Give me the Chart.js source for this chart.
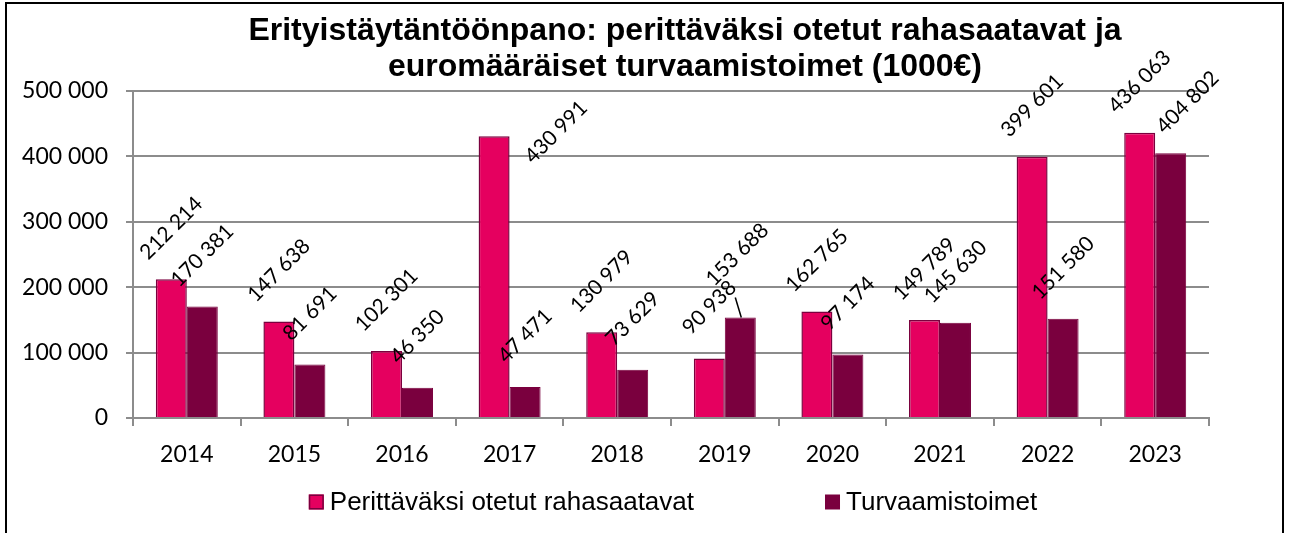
<!DOCTYPE html>
<html>
<head>
<meta charset="utf-8">
<script src="https://cdn.jsdelivr.net/npm/chart.js@4"></script>
<style>
  html, body { margin: 0; padding: 0; background: #fff; }
  canvas { display: block; }
</style>
</head>
<body>
<canvas id="chart" width="1290" height="533"></canvas>
<script>
// data
const years = ['2014', '2015', '2016', '2017', '2018', '2019', '2020', '2021', '2022', '2023'];
const perittavaksi = [212214, 147638, 102301, 430991, 130979, 90938, 162765, 149789, 399601, 436063];
const turvaamistoimet = [170381, 81691, 46350, 47471, 73629, 153688, 97174, 145630, 151580, 404802];
const seriesNames = ['Perittäväksi otetut rahasaatavat', 'Turvaamistoimet'];
const titleLines = ['Erityistäytäntöönpano: perittäväksi otetut rahasaatavat ja', 'euromääräiset turvaamistoimet (1000€)'];

const PINK = '#E5005F';
const WINE = '#7A003E';
const GRID = '#8c8c8c';

// labels that were moved by hand in the original
const labelNudge = {
  '0-3': { dx: 62, dy: 47 },
  '1-5': { dx: -3, dy: -12, leader: true },
  '1-9': { dx: 17, dy: 0 }
};

function fmt(v) {
  return String(v).replace(/\B(?=(\d{3})+(?!\d))/g, ' ');
}

Chart.defaults.font.family = 'Lato';
Chart.defaults.font.size = 23;
Chart.defaults.color = '#000';

// rotated value labels above the bars
const barLabels = {
  id: 'barLabels',
  afterDatasetsDraw(chart) {
    const ctx = chart.ctx;
    chart.data.datasets.forEach((ds, i) => {
      chart.getDatasetMeta(i).data.forEach((bar, j) => {
        const n = labelNudge[i + '-' + j] || { dx: 0, dy: 0 };
        const cx = bar.x + n.dx;
        const cy = bar.y - 51 + n.dy;
        ctx.save();
        if (n.leader) {
          ctx.strokeStyle = '#000';
          ctx.lineWidth = 1.5;
          ctx.beginPath();
          ctx.moveTo(bar.x - 5, bar.y - 20);
          ctx.lineTo(bar.x + 1, bar.y);
          ctx.stroke();
        }
        ctx.translate(cx, cy);
        ctx.rotate(-Math.PI / 4);
        ctx.font = '21px Lato';
        ctx.fillStyle = '#000';
        ctx.textAlign = 'center';
        ctx.textBaseline = 'middle';
        ctx.fillText(fmt(ds.data[j]), 0, 0);
        ctx.restore();
      });
    });
  }
};

// title, legend row and outer frame
const frameAndText = {
  id: 'frameAndText',
  afterDraw(chart) {
    const ctx = chart.ctx;
    const area = chart.chartArea;
    ctx.save();

    ctx.fillStyle = '#000';
    ctx.textAlign = 'center';
    ctx.textBaseline = 'middle';
    ctx.font = 'bold 32px "Liberation Sans", Arial, sans-serif';
    const tx = (area.left + area.right) / 2 + 14;
    titleLines.forEach((line, k) => ctx.fillText(line, tx, 31 + k * 36));

    ctx.textAlign = 'left';
    ctx.font = '26px "Liberation Sans", Arial, sans-serif';
    const box = 15, gapText = 6, gapItem = 131;
    const widths = chart.data.datasets.map(d => ctx.measureText(d.label).width);
    const total = widths.reduce((a, w) => a + box + gapText + w, 0) + gapItem * (widths.length - 1);
    let x = (area.left + area.right) / 2 + 2 - total / 2;
    const y = 502;
    chart.data.datasets.forEach((d, i) => {
      ctx.fillStyle = d.backgroundColor;
      ctx.fillRect(x, y - box / 2, box, box);
      if (i === 0) {
        ctx.strokeStyle = WINE;
        ctx.lineWidth = 1.5;
        ctx.strokeRect(x + 0.75, y - box / 2 + 0.75, box - 1.5, box - 1.5);
      }
      ctx.fillStyle = '#000';
      ctx.fillText(d.label, x + box + gapText, y + 1);
      x += box + gapText + widths[i] + gapItem;
    });

    ctx.strokeStyle = '#000';
    ctx.lineWidth = 2;
    ctx.strokeRect(6, 3, 1277, 600);
    ctx.restore();
  }
};

new Chart(document.getElementById('chart'), {
  type: 'bar',
  data: {
    labels: years,
    datasets: [
      {
        label: seriesNames[0],
        data: perittavaksi,
        backgroundColor: PINK,
        borderColor: WINE,
        borderWidth: 1.5,
        categoryPercentage: 0.576,
        barPercentage: 1
      },
      {
        label: seriesNames[1],
        data: turvaamistoimet,
        backgroundColor: WINE,
        borderColor: WINE,
        borderWidth: 1,
        categoryPercentage: 0.576,
        barPercentage: 1
      }
    ]
  },
  options: {
    responsive: false,
    animation: false,
    layout: { padding: { left: 10, right: 81, top: 91, bottom: 70 } },
    plugins: {
      legend: { display: false },
      tooltip: { enabled: false },
      title: { display: false }
    },
    scales: {
      x: {
        grid: { drawOnChartArea: false, drawTicks: true, tickLength: 8, color: GRID, lineWidth: 2 },
        border: { color: GRID, width: 2 },
        ticks: { padding: 15, maxRotation: 0, autoSkip: false },
        afterFit(s) { s.height = 45; }
      },
      y: {
        min: 0,
        max: 500000,
        ticks: { stepSize: 100000, padding: 18, callback: v => fmt(v) },
        grid: { color: GRID, lineWidth: 2, tickLength: 7 },
        border: { color: GRID, width: 2 },
        afterFit(s) { s.width = 123; }
      }
    }
  },
  plugins: [barLabels, frameAndText]
});
</script>
</body>
</html>
